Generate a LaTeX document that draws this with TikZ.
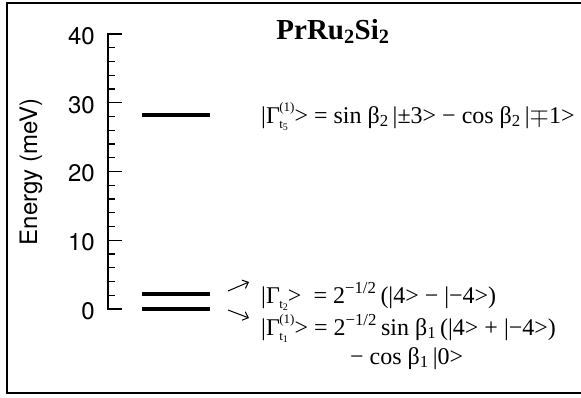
\documentclass[tikz,border=0pt]{standalone}
\usepackage{fontspec}
\setmainfont{Liberation Serif}
\setsansfont{TeX Gyre Heros}
\usetikzlibrary{arrows.meta}

% state label with stacked index
\newcommand{\idx}{\fontsize{13}{13}\selectfont}
\newcommand{\Gst}[2]{Γ\kern-0.5pt\setbox0=\hbox{\idx #2}\rlap{\raisebox{0.5em}{\copy0}}\makebox[\wd0][l]{\raisebox{-0.24em}{\idx #1}}}
\newcommand{\Gsb}[1]{Γ\kern-0.5pt\raisebox{-0.24em}{\idx #1}}
\newcommand{\tn}[1]{t\raisebox{-0.1em}{\fontsize{10}{10}\selectfont #1}}

\begin{document}
\begin{tikzpicture}[x=1pt, y=-1pt, >={Straight Barb[length=5pt,width=9pt]},
    level/.style={line width=3.6pt},
    tick/.style={line width=1.3pt},
    lab/.style={font=\sffamily\fontsize{24}{24}\selectfont, inner sep=0pt},
    eq/.style={anchor=base west, inner sep=0pt, font=\fontsize{24}{26}\selectfont}]
    \useasboundingbox (0,0) rectangle (581,397);
    % frame
    \draw[line width=1.8pt] (581,3) -- (7,3) -- (7,393) -- (581,393);
    % energy axis
    \coordinate (top) at (108,34);
    \coordinate (bot) at (108,309);
    \draw[tick] (122,34) -- (top) -- (bot) -- (122,309);
    \foreach \e in {2,4,...,38}{%
      \draw[tick] (108,309-6.875*\e) -- ++(7,0);}
    \foreach \e in {10,20,30}{%
      \draw[tick] (108,309-6.875*\e) -- ++(14,0);}
    \foreach \e in {0,10,...,40}{%
      \node[lab, anchor=east] at (95,311-6.875*\e) {\e};}
    \node[lab, rotate=90] (elab) at (31,172) {Energy (meV)};
    % title
    \node[anchor=base, inner sep=0pt, font=\bfseries\fontsize{29}{29}\selectfont] (title) at (333,39)
      {PrRu\textsubscript{2}Si\textsubscript{2}};
    % levels
    \coordinate (g5a) at (142,115);
    \coordinate (g5b) at (210,115);
    \coordinate (g2a) at (142,294);
    \coordinate (g2b) at (210,294);
    \coordinate (g1a) at (142,309);
    \coordinate (g1b) at (210,309);
    \draw[level] (g5a) -- (g5b);
    \draw[level] (g2a) -- (g2b);
    \draw[level] (g1a) -- (g1b);
    % wave functions
    \node[eq] (w5) at (261,123)
      {|\Gst{\tn{5}}{(1)}> = sin β\textsubscript{2}\,|±3> − cos β\textsubscript{2}\,|\ensuremath{\mp}1>};
    \node[eq] (w2) at (261,303)
      {|\Gsb{\tn{2}}>\ \ = 2\textsuperscript{−1/2}\,(|4> − |−4>)};
    \node[eq] (w1) at (261,335)
      {|\Gst{\tn{1}}{(1)}> = 2\textsuperscript{−1/2}\,sin β\textsubscript{1}\,(|4> + |−4>)};
    \node[eq] (w1b) at (350,364) {− cos β\textsubscript{1}\,|0>};
    % arrows
    \coordinate (t2) at (228,291);
    \coordinate (h2) at (249,282);
    \coordinate (t1) at (228,310);
    \coordinate (h1) at (249,318);
    \draw[->, line width=1pt] (t2) -- (h2);
    \draw[->, line width=1pt] (t1) -- (h1);
\end{tikzpicture}
\end{document}
